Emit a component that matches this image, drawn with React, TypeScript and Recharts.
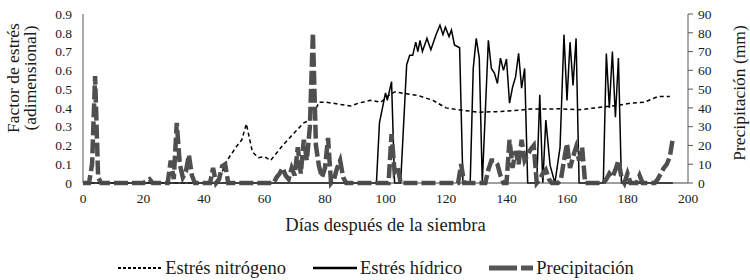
import React from 'react';
import { LineChart, Line, XAxis, YAxis, Legend } from 'recharts';

const FONT = 'Liberation Serif, DejaVu Serif, serif';

// x axis (días después de la siembra)
const diasTicks = [0, 20, 40, 60, 80, 100, 120, 140, 160, 180, 200];
const factorTicks = [0, 0.1, 0.2, 0.3, 0.4, 0.5, 0.6, 0.7, 0.8, 0.9];
const precipTicks = [0, 10, 20, 30, 40, 50, 60, 70, 80, 90];

// [día, factor] estrés nitrógeno
const estresNitrogeno: [number, number][] = [
  [0, 0], [44.5, 0], [47.6, 0.12], [51, 0.2], [52.5, 0.23], [54, 0.315], [56, 0.165],
  [58, 0.135], [60, 0.14], [62, 0.12], [66, 0.2], [70, 0.27], [73, 0.32], [75, 0.335],
  [76, 0.36], [78, 0.43], [80.5, 0.43], [84.5, 0.42], [88.5, 0.41], [91, 0.425], [95, 0.44],
  [98.5, 0.43], [100.5, 0.46], [103, 0.485], [107, 0.475], [111, 0.465], [115.7, 0.44],
  [120, 0.4], [124, 0.39], [126.6, 0.385], [131, 0.377], [136.6, 0.38], [142, 0.385],
  [148, 0.394], [152, 0.394], [157.7, 0.395], [164, 0.39], [172, 0.405], [177.5, 0.415],
  [181, 0.425], [185.5, 0.43], [190, 0.46], [194, 0.46],
];

// [día, factor] estrés hídrico
const estresHidrico: [number, number][] = [
  [0, 0], [97, 0], [98, 0.32], [100, 0.48], [100.6, 0.44], [102, 0.54], [103, 0], [105, 0],
  [107, 0.63], [108, 0.68], [109, 0.68], [110, 0.75], [110.7, 0.7], [111.4, 0.76],
  [112.2, 0.7], [113.7, 0.77], [115, 0.71], [116.7, 0.79], [118, 0.84], [119, 0.79],
  [119.8, 0.83], [121, 0.78], [121.8, 0.815], [122.8, 0.735], [124.5, 0.72], [125.6, 0],
  [128, 0], [129, 0.61], [130, 0.77], [131, 0.665], [132, 0], [134, 0.76], [135, 0.61],
  [136, 0.585], [137, 0.53], [138, 0.665], [139, 0.6], [140, 0.66], [141, 0.425],
  [142, 0.51], [143, 0.565], [144, 0.69], [145, 0.505], [146, 0.61], [147, 0], [150, 0],
  [151, 0.47], [152, 0], [153, 0.335], [154.4, 0.095], [156, 0], [157.7, 0.19], [159, 0.79],
  [160, 0.44], [161, 0.75], [162, 0.52], [163, 0.77], [164, 0], [172, 0], [173, 0.69],
  [174, 0.4], [175, 0.7], [176, 0.35], [177, 0.665], [178, 0], [195, 0],
];

// precipitación diaria (mm), día 0 a 195
const precipitacion = [
  0, 0, 0, 10, 57, 3, 0, 0, 0, 0,
  0, 0, 0, 0, 0, 0, 0, 0, 0, 0,
  0, 1, 2, 0, 0, 0, 0, 0, 0, 12,
  2, 32, 10, 3, 6, 15, 4, 0, 0, 0,
  0, 0, 0, 8, 0, 2, 9, 10, 0, 0,
  0, 0, 0, 0, 0, 0, 0, 0, 0, 0,
  0, 0, 0, 0, 3, 5, 8, 4, 2, 8,
  4, 19, 5, 23, 12, 30, 80, 20, 9, 3,
  8, 24, 0, 2, 8, 12, 3, 0, 0, 0,
  0, 0, 0, 0, 0, 0, 0, 0, 0, 0,
  0, 0, 26, 6, 9, 0, 0, 0, 0, 0,
  0, 0, 0, 0, 0, 0, 0, 0, 0, 0,
  0, 0, 0, 0, 0, 10, 0, 0, 0, 0,
  0, 0, 0, 0, 7, 12, 12, 10, 4, 0,
  0, 23, 8, 17, 10, 23, 12, 15, 18, 20,
  0, 2, 5, 7, 2, 0, 0, 0, 2, 12,
  21, 8, 14, 19, 12, 19, 0, 0, 0, 0,
  0, 0, 0, 2, 5, 3, 7, 12, 3, 0,
  5, 0, 0, 0, 4, 0, 0, 0, 0, 0,
  2, 5, 8, 10, 14, 24,
];

const nitrogenoData = estresNitrogeno.map(([x, y]) => ({ x, y }));
const hidricoData = estresHidrico.map(([x, y]) => ({ x, y }));
const precipData = precipitacion.map((y, x) => ({ x, y }));

const TEXT = '#1a1a1a';
const tickStyle = { fontFamily: FONT, fontSize: 13.5, fill: TEXT };

const legendItems = [
  { label: 'Estrés nitrógeno', stroke: '#000', width: 2, dash: '3 2' },
  { label: 'Estrés hídrico', stroke: '#000', width: 2.5, dash: undefined },
  { label: 'Precipitación', stroke: '#555', width: 5, dash: '28 4 14 4' },
];

const renderLegend = () => (
  <div
    style={{
      display: 'flex', justifyContent: 'center', alignItems: 'center', height: 22,
      paddingLeft: 2, fontFamily: FONT, fontSize: 18.5, color: TEXT,
    }}
  >
    {legendItems.map((it, i) => (
      <div key={it.label} style={{ display: 'flex', alignItems: 'center', marginLeft: i ? 27 : 0 }}>
        <svg width={44} height={10} style={{ marginRight: 3 }}>
          <line x1={0} y1={5} x2={44} y2={5} stroke={it.stroke} strokeWidth={it.width} strokeDasharray={it.dash} />
        </svg>
        <span>{it.label}</span>
      </div>
    ))}
  </div>
);

export default function App() {
  return (
    <div style={{ position: 'absolute', left: 0, top: 0, width: 750, height: 280, background: '#fff' }}>
      <LineChart width={750} height={280} margin={{ top: 14, right: 0, bottom: 1, left: 0 }} style={{ fontFamily: FONT }}>
        <XAxis
          dataKey="x"
          type="number"
          domain={[0, 200]}
          ticks={diasTicks}
          interval={0}
          height={74}
          stroke="#404040"
          tickLine={false}
          tickSize={0}
          tickMargin={10}
          tick={tickStyle}
          label={{
            content: ({ viewBox }: any) => (
              <text x={viewBox.x + viewBox.width / 2} y={viewBox.y + 48} textAnchor="middle"
                fontFamily={FONT} fontSize={18.5} fill={TEXT}>
                Días después de la siembra
              </text>
            ),
          }}
        />
        <YAxis
          yAxisId="left"
          domain={[0, 0.9]}
          ticks={factorTicks}
          interval={0}
          width={83}
          stroke="#595959"
          tickLine={false}
          tickSize={0}
          tickMargin={11}
          tick={tickStyle}
          tickFormatter={(v: number) => (v === 0 ? '0' : v.toFixed(1))}
          label={{
            content: () => (
              <g fontFamily={FONT} fontSize={17.5} fill={TEXT}>
                <text transform="translate(13,78) rotate(-90)" textAnchor="middle" dominantBaseline="central">
                  Factor de estrés
                </text>
                <text transform="translate(30,78) rotate(-90)" textAnchor="middle" dominantBaseline="central">
                  (adimensional)
                </text>
              </g>
            ),
          }}
        />
        <YAxis
          yAxisId="right"
          orientation="right"
          domain={[0, 90]}
          ticks={precipTicks}
          interval={0}
          width={62}
          stroke="#595959"
          tickSize={5}
          tickMargin={5}
          tick={tickStyle}
          label={{
            content: () => (
              <text transform="translate(739,93) rotate(-90)"
                textAnchor="middle" dominantBaseline="central" fontFamily={FONT} fontSize={17.5} fill={TEXT}>
                Precipitación (mm)
              </text>
            ),
          }}
        />
        <Legend verticalAlign="bottom" content={renderLegend} />
        <Line data={nitrogenoData} yAxisId="left" dataKey="y" type="linear" stroke="#000"
          strokeWidth={1.5} strokeDasharray="4 3" dot={false} isAnimationActive={false} />
        <Line data={hidricoData} yAxisId="left" dataKey="y" type="linear" stroke="#000"
          strokeWidth={1.5} dot={false} isAnimationActive={false} />
        <Line data={precipData} yAxisId="right" dataKey="y" type="linear" stroke="#4f4f4f"
          strokeWidth={4.5} strokeDasharray="14 4" dot={false} isAnimationActive={false} />
      </LineChart>
    </div>
  );
}
